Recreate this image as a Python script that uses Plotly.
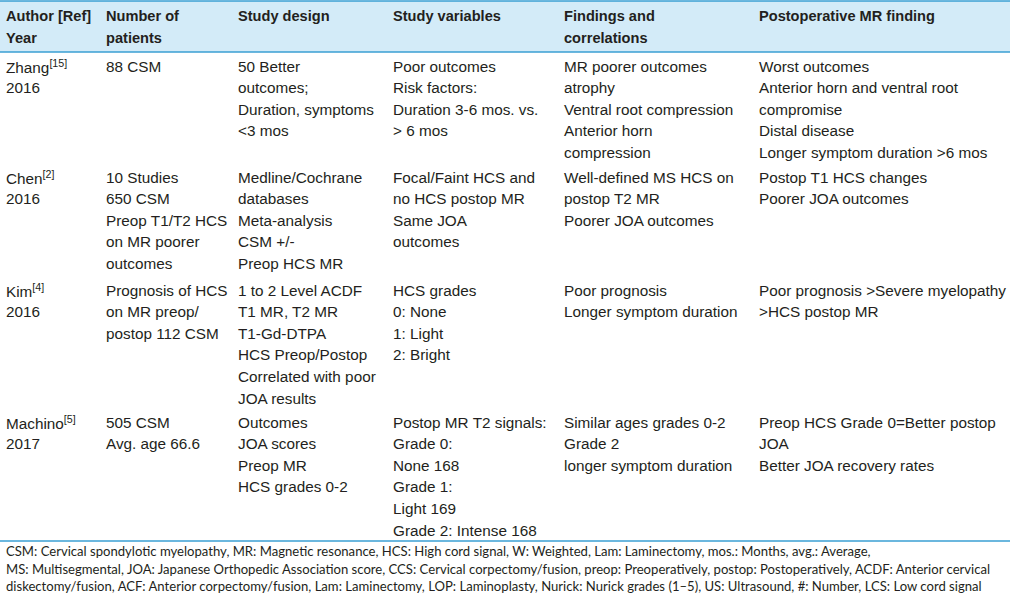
import plotly.graph_objects as go

# ---- data ----
headers = [
    ["Author [Ref]", "Year"],
    ["Number of", "patients"],
    ["Study design"],
    ["Study variables"],
    ["Findings and", "correlations"],
    ["Postoperative MR finding"],
]
authors = [
    ["Zhang<sup>[15]</sup>", "2016"],
    ["Chen<sup>[2]</sup>", "2016"],
    ["Kim<sup>[4]</sup>", "2016"],
    ["Machino<sup>[5]</sup>", "2017"],
]
patients = [
    ["88 CSM"],
    ["10 Studies", "650 CSM", "Preop T1/T2 HCS", "on MR poorer", "outcomes"],
    ["Prognosis of HCS", "on MR preop/", "postop 112 CSM"],
    ["505 CSM", "Avg. age 66.6"],
]
designs = [
    ["50 Better", "outcomes;", "Duration, symptoms", "&lt;3 mos"],
    ["Medline/Cochrane", "databases", "Meta-analysis", "CSM +/-", "Preop HCS MR"],
    ["1 to 2 Level ACDF", "T1 MR, T2 MR", "T1-Gd-DTPA", "HCS Preop/Postop", "Correlated with poor", "JOA results"],
    ["Outcomes", "JOA scores", "Preop MR", "HCS grades 0-2"],
]
variables = [
    ["Poor outcomes", "Risk factors:", "Duration 3-6 mos. vs.", "&gt; 6 mos"],
    ["Focal/Faint HCS and", "no HCS postop MR", "Same JOA", "outcomes"],
    ["HCS grades", "0: None", "1: Light", "2: Bright"],
    ["Postop MR T2 signals:", "Grade 0:", "None 168", "Grade 1:", "Light 169", "Grade 2: Intense 168"],
]
findings = [
    ["MR poorer outcomes", "atrophy", "Ventral root compression", "Anterior horn", "compression"],
    ["Well-defined MS HCS on", "postop T2 MR", "Poorer JOA outcomes"],
    ["Poor prognosis", "Longer symptom duration"],
    ["Similar ages grades 0-2", "Grade 2", "longer symptom duration"],
]
postop = [
    ["Worst outcomes", "Anterior horn and ventral root", "compromise", "Distal disease", "Longer symptom duration &gt;6 mos"],
    ["Postop T1 HCS changes", "Poorer JOA outcomes"],
    ["Poor prognosis &gt;Severe myelopathy", "&gt;HCS postop MR"],
    ["Preop HCS Grade 0=Better postop", "JOA", "Better JOA recovery rates"],
]
footnotes = [
    "CSM: Cervical spondylotic myelopathy, MR: Magnetic resonance, HCS: High cord signal, W: Weighted, Lam: Laminectomy, mos.: Months, avg.: Average,",
    "MS: Multisegmental, JOA: Japanese Orthopedic Association score, CCS: Cervical corpectomy/fusion, preop: Preoperatively, postop: Postoperatively, ACDF: Anterior cervical",
    "diskectomy/fusion, ACF: Anterior corpectomy/fusion, Lam: Laminectomy, LOP: Laminoplasty, Nurick: Nurick grades (1–5), US: Ultrasound, #: Number, LCS: Low cord signal",
]

# ---- layout constants ----
W, H = 1010, 594
col_x = [4, 104, 236, 391, 562, 757]
header_y = [16, 38]
row_top = [66, 177, 290, 422]
step = 21.6
foot_y = [551, 569, 586]
TXT = "#231f20"
BODY_FONT = "Liberation Sans, Arial, sans-serif"
FOOT_FONT = "Lato, Open Sans, sans-serif"

fig = go.Figure()
fig.add_trace(go.Scatter(x=[0, W], y=[0, H], mode="markers", marker=dict(opacity=0), hoverinfo="skip", showlegend=False))

shapes = [
    dict(type="rect", x0=0, x1=W, y0=1, y1=52, fillcolor="#d3ebf8", line=dict(width=0), layer="below"),
    dict(type="line", x0=0, x1=W, y0=1, y1=1, line=dict(color="#3a9fd3", width=1.5)),
    dict(type="line", x0=0, x1=W, y0=52, y1=52, line=dict(color="#3a9fd3", width=1.5)),
    dict(type="line", x0=0, x1=W, y0=541, y1=541, line=dict(color="#3a9fd3", width=1.5)),
]

annotations = []
def add(x, y, text, size=15.3, bold=False, font=BODY_FONT):
    annotations.append(dict(
        x=x, y=y, xref="x", yref="y", text=("<b>%s</b>" % text) if bold else text,
        showarrow=False, xanchor="left", yanchor="middle",
        font=dict(family=font, size=size, color=TXT), align="left"))

for ci, lines in enumerate(headers):
    for li, t in enumerate(lines):
        add(col_x[ci], header_y[li], t, size=14.6, bold=True)

columns = [authors, patients, designs, variables, findings, postop]
for ci, col in enumerate(columns):
    for ri, cell in enumerate(col):
        for li, t in enumerate(cell):
            add(col_x[ci], row_top[ri] + li * step, t)

for li, t in enumerate(footnotes):
    add(4, foot_y[li], t, size=13.1, font=FOOT_FONT)

fig.update_layout(
    width=W, height=H, margin=dict(l=0, r=0, t=0, b=0),
    paper_bgcolor="white", plot_bgcolor="white",
    xaxis=dict(range=[0, W], visible=False, fixedrange=True),
    yaxis=dict(range=[H, 0], visible=False, fixedrange=True),
    shapes=shapes, annotations=annotations,
)
fig.write_html(
    "out.html",
    config={"displayModeBar": False, "staticPlot": True},
    post_script="document.body.style.margin='0';document.body.style.overflow='hidden';",
)
